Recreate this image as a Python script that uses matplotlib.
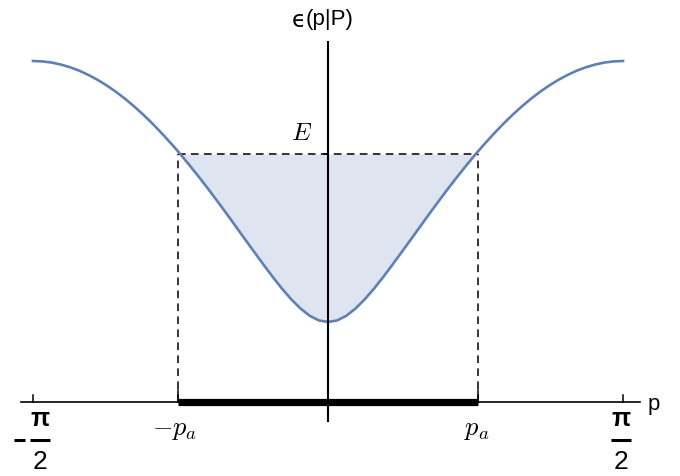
import numpy as np
import matplotlib
matplotlib.use("Agg")
import matplotlib.pyplot as plt

plt.rcParams["mathtext.fontset"] = "cm"

# Dispersion epsilon(p|P) sampled on p = m*pi/64, m = 0..32 (curve is even in p)
eps_half = [0.800, 0.816, 0.863, 0.936, 1.028, 1.135, 1.251, 1.374, 1.500,
            1.627, 1.755, 1.883, 2.008, 2.131, 2.250, 2.365, 2.477, 2.583,
            2.684, 2.780, 2.870, 2.954, 3.031, 3.102, 3.165, 3.222, 3.271,
            3.314, 3.348, 3.375, 3.395, 3.406, 3.410]
p_half = [m * np.pi / 64 for m in range(33)]

p_a = 0.799      # Fermi momentum
E = 2.48         # energy level

p = np.array([-v for v in p_half[:0:-1]] + p_half)
eps = np.array(eps_half[:0:-1] + eps_half)

blue = "#5E81B5"

fig = plt.figure(figsize=(6.8, 4.77), dpi=100)
ax = fig.add_axes([0, 0, 1, 1])
ax.set_axis_off()

sx = (np.pi / 2) / 295.0   # data per pixel, x
sy = 0.01                  # data per pixel, y
x0, y0 = 328, 403          # origin in pixels
ax.set_xlim(-x0 * sx, (680 - x0) * sx)
ax.set_ylim(-(477 - y0) * sy, y0 * sy)


def px(x):
    return (x - x0) * sx


def py(y):
    return (y0 - y) * sy


# filled region under E
ax.fill_between(p, eps, E, where=eps <= E, interpolate=True,
                color=blue, alpha=0.2, lw=0, zorder=1)

# curve
ax.plot(p, eps, color=blue, lw=1.9, zorder=3)

# axes lines
ax.plot([px(21), px(640)], [0, 0], color="black", lw=1.2, zorder=4)
ax.plot([0, 0], [py(422), py(43)], color="black", lw=1.5, zorder=4)

# dashed guides
dash = dict(color="black", lw=1.1, ls=(0, (5, 3.5)), zorder=2)
ax.plot([-p_a, p_a], [E, E], **dash)
ax.plot([-p_a, -p_a], [0, E], **dash)
ax.plot([p_a, p_a], [0, E], **dash)

# occupied interval on the p axis
ax.plot([-p_a, p_a], [0, 0], color="black", lw=5.2, solid_capstyle="butt", zorder=5)

# ticks
for xv in (-np.pi / 2, np.pi / 2):
    ax.plot([xv, xv], [0, 7 * sy], color="black", lw=1.1, zorder=4)
for xv in (-p_a, p_a):
    ax.plot([xv, xv], [0, 12 * sy], color="black", lw=1.1, zorder=4)
ax.plot([-4 * sx, 0], [E, E], color="black", lw=1.1, zorder=4)

# tick labels: -pi/2 and pi/2 as stacked fractions
sans = ["Liberation Sans", "DejaVu Sans"]
for xc, neg in ((40, True), (621, False)):
    ax.text(px(xc), py(419), "π", ha="center", va="center",
            fontsize=18, fontweight="bold", family=sans)
    ax.plot([px(xc - 10), px(xc + 10)], [py(441)] * 2, color="black", lw=2.2,
            solid_capstyle="butt")
    ax.text(px(xc), py(462), "2", ha="center", va="center",
            fontsize=19, family=sans)
    if neg:
        ax.plot([px(14), px(25)], [py(441)] * 2, color="black", lw=2.2,
                solid_capstyle="butt")

ax.text(px(175), py(429), r"$-p_a$", ha="center", va="center", fontsize=19)
ax.text(px(477), py(429), r"$p_a$", ha="center", va="center", fontsize=19)
ax.text(px(302), py(133), r"$E$", ha="center", va="center", fontsize=18)

ax.text(px(654), py(405), "p", ha="center", va="center",
        fontsize=16, family=sans)
ax.text(px(306), py(21), "ϵ", ha="right", va="center",
        fontsize=16.5, family=["DejaVu Sans"])
ax.text(px(306), py(20), "(p|P)", ha="left", va="center",
        fontsize=16, family=sans)

fig.savefig("out.png", dpi=100)
